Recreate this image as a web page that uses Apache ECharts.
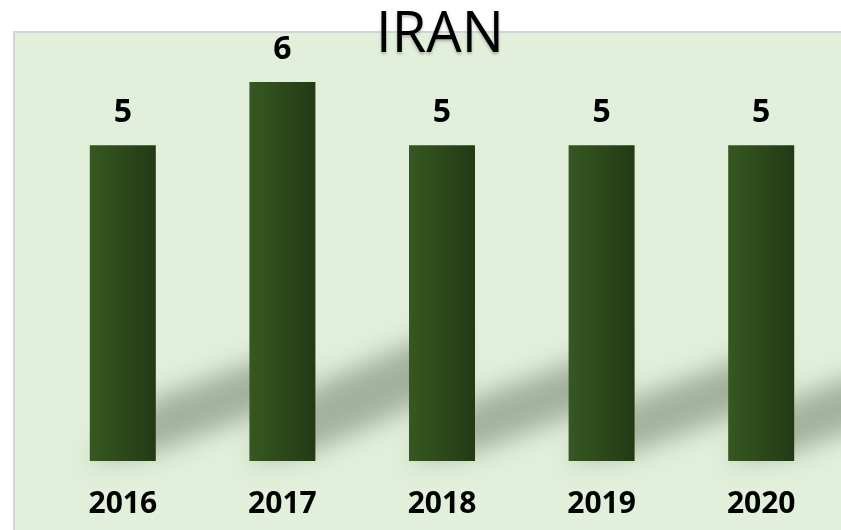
<!DOCTYPE html>
<html>
<head>
<meta charset="utf-8">
<script src="https://cdn.jsdelivr.net/npm/echarts@6/dist/echarts.min.js"></script>
<style>
html,body{margin:0;padding:0;background:#ffffff;}
#chart{width:841px;height:530px;}
</style>
</head>
<body>
<div id="chart"></div>
<script>
const titleText = 'IRAN';
const categories = ['2016', '2017', '2018', '2019', '2020'];
const values = [5, 6, 5, 5, 5];

const chart = echarts.init(document.getElementById('chart'), null, {renderer: 'canvas'});
const FONT = '"Open Sans", "Noto Sans", sans-serif';
const BAR_W = 66;
const OFF = 3000;

const option = {
  backgroundColor: '#ffffff',
  animation: false,
  title: {
    text: titleText,
    left: 435,
    top: 3,
    textAlign: 'center',
    textStyle: {
      fontFamily: FONT,
      fontWeight: 'normal',
      fontSize: 56,
      lineHeight: 56,
      color: '#000000',
      textShadowColor: 'rgba(0,0,0,0.25)',
      textShadowBlur: 3,
      textShadowOffsetY: 2
    }
  },
  graphic: [{
    type: 'rect',
    z: -10,
    silent: true,
    shape: {x: 14, y: 32, width: 900, height: 600},
    style: {fill: '#e2efda', stroke: '#d4d4d4', lineWidth: 2}
  }],
  grid: {left: 43, right: 0, top: 82, bottom: 69, containLabel: false},
  xAxis: {
    type: 'category',
    data: categories,
    axisLine: {show: false},
    axisTick: {show: false},
    axisLabel: {
      margin: 28,
      fontFamily: FONT,
      fontWeight: 'bold',
      fontSize: 30,
      lineHeight: 30,
      color: '#000000'
    }
  },
  yAxis: {
    type: 'value',
    min: 0,
    max: 6,
    show: false,
    splitLine: {show: false}
  },
  series: [{
    type: 'custom',
    z: 1,
    silent: true,
    data: values.map((v, i) => [i, v]),
    encode: {x: 0, y: 1},
    renderItem: function (params, api) {
      const top = api.coord([api.value(0), api.value(1)]);
      const base = api.coord([api.value(0), 0]);
      const cx = base[0];
      const L = cx - BAR_W / 2, R = cx + BAR_W / 2, B = base[1];
      const h = B - top[1];
      const s = 0.00115 * h;
      const lo = 0.03 * h;
      const hi = 0.2 * h;
      const D = 140;
      const pts = [
        [L, B], [R, B - lo], [R + D, B - lo - s * D], [R + D, B - hi - s * D], [R, B - hi]
      ].map(p => [p[0] - OFF, p[1]]);
      return {
        type: 'polygon',
        shape: {points: pts},
        style: {
          fill: '#6f7d69',
          shadowColor: 'rgba(100,116,95,0.5)',
          shadowBlur: 24,
          shadowOffsetX: OFF,
          shadowOffsetY: 0
        }
      };
    }
  }, {
    type: 'bar',
    z: 3,
    data: values,
    barWidth: BAR_W,
    itemStyle: {
      color: {
        type: 'linear', x: 0, y: 0, x2: 1, y2: 0,
        colorStops: [
          {offset: 0, color: '#365822'},
          {offset: 1, color: '#223a15'}
        ]
      }
    },
    label: {
      show: true,
      position: 'top',
      distance: 16,
      fontFamily: FONT,
      fontWeight: 'bold',
      fontSize: 32,
      lineHeight: 32,
      color: '#000000'
    }
  }]
};
chart.setOption(option);
</script>
</body>
</html>
